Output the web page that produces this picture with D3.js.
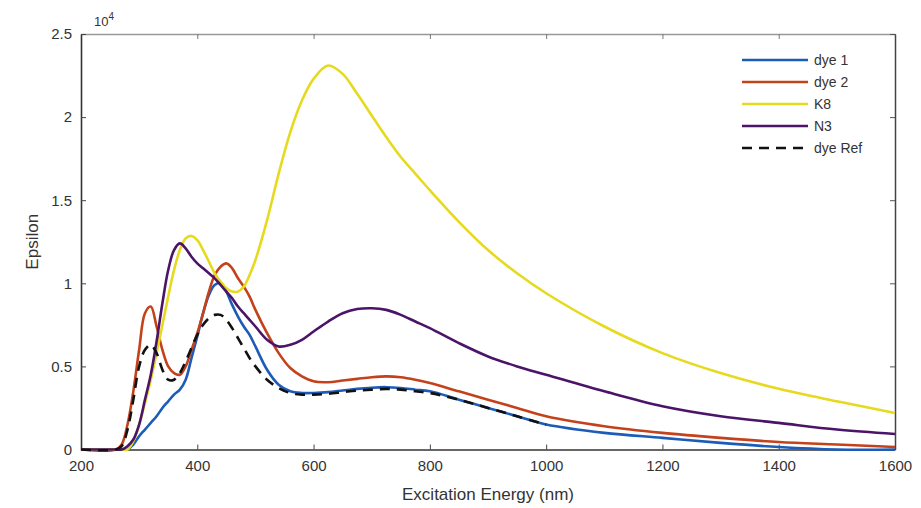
<!DOCTYPE html>
<html>
<head>
<meta charset="utf-8">
<script src="https://cdn.jsdelivr.net/npm/d3@7"></script>
<style>
body { margin: 0; background: #fff; }
svg { display: block; font-family: "Liberation Sans", Arial, sans-serif; }
</style>
</head>
<body>
<div class="chart"></div>
<script>
// wavelength grid (nm), shared by all series
var wavelength = [200, 260, 270, 280, 290, 300, 310, 320, 330, 340, 350, 360, 370, 380, 390, 400, 410, 420, 430, 440, 450, 460, 470, 480, 490, 500, 520, 540, 560, 580, 600, 625, 650, 675, 700, 725, 750, 775, 800, 850, 900, 950, 1000, 1100, 1200, 1300, 1400, 1500, 1600];

// epsilon values, x10^4
var dye1 = [0, 0, 0, 0, 0.03, 0.08, 0.12, 0.16, 0.2, 0.25, 0.29, 0.33, 0.36, 0.42, 0.55, 0.68, 0.82, 0.93, 0.99, 1.0, 0.95, 0.87, 0.8, 0.74, 0.69, 0.62, 0.48, 0.39, 0.35, 0.34, 0.34, 0.345, 0.355, 0.365, 0.372, 0.375, 0.37, 0.36, 0.35, 0.3, 0.25, 0.2, 0.15, 0.1, 0.07, 0.04, 0.015, 0, 0];
var dye2 = [0, 0, 0.03, 0.15, 0.35, 0.6, 0.82, 0.86, 0.74, 0.6, 0.5, 0.46, 0.45, 0.5, 0.6, 0.7, 0.82, 0.95, 1.05, 1.1, 1.12, 1.09, 1.03, 0.98, 0.92, 0.84, 0.7, 0.58, 0.49, 0.44, 0.41, 0.405, 0.415, 0.425, 0.435, 0.44, 0.435, 0.42, 0.4, 0.35, 0.3, 0.25, 0.2, 0.14, 0.1, 0.07, 0.045, 0.03, 0.015];
var k8 = [0, 0, 0, 0, 0.05, 0.15, 0.28, 0.42, 0.58, 0.75, 0.92, 1.08, 1.2, 1.27, 1.285, 1.26, 1.2, 1.13, 1.06, 1.01, 0.97, 0.95, 0.95, 0.98, 1.05, 1.14, 1.38, 1.66, 1.91, 2.1, 2.23, 2.31, 2.26, 2.14, 2.01, 1.88, 1.76, 1.66, 1.56, 1.37, 1.2, 1.06, 0.94, 0.74, 0.58, 0.46, 0.365, 0.29, 0.22];
var n3 = [0, 0, 0, 0.02, 0.06, 0.15, 0.3, 0.45, 0.65, 0.88, 1.08, 1.2, 1.24, 1.21, 1.16, 1.12, 1.09, 1.06, 1.03, 0.99, 0.95, 0.91, 0.86, 0.82, 0.78, 0.74, 0.66, 0.62, 0.63, 0.66, 0.71, 0.77, 0.82, 0.845, 0.85, 0.84, 0.81, 0.77, 0.73, 0.64, 0.56, 0.5, 0.45, 0.35, 0.26, 0.2, 0.16, 0.12, 0.093];
var dyeRef = [0, 0, 0.02, 0.12, 0.3, 0.5, 0.6, 0.63, 0.58, 0.48, 0.42, 0.42, 0.46, 0.53, 0.61, 0.69, 0.75, 0.79, 0.81, 0.81, 0.78, 0.73, 0.67, 0.61, 0.55, 0.5, 0.42, 0.37, 0.34, 0.33, 0.33, 0.335, 0.345, 0.355, 0.36, 0.365, 0.36, 0.35, 0.34, 0.3, 0.25, 0.2, 0.15, null, null, null, null, null, null];

var seriesNames = ['dye 1', 'dye 2', 'K8', 'N3', 'dye Ref'];
var seriesValues = [dye1, dye2, k8, n3, dyeRef];
var seriesColors = ['#1d5bb8', '#c4421b', '#e6da1f', '#4b1469', '#111111'];

var xTicks = [200, 400, 600, 800, 1000, 1200, 1400, 1600];
var yTicks = [0, 0.5, 1, 1.5, 2, 2.5];

(function() {
var width = 921;
var height = 508;
var pLeft = 81, pRight = 895, pTop = 34, pBottom = 449.5;

var svg = d3.select('.chart').append('svg').attr('width', width).attr('height', height);

var x = d3.scaleLinear().domain([200, 1600]).range([pLeft, pRight]);
var y = d3.scaleLinear().domain([0, 2.5]).range([pBottom, pTop]);

// box lines + inward ticks
svg.append('g')
  .attr('transform', 'translate(0,' + pTop + ')')
  .call(d3.axisTop(x).tickValues(xTicks).tickSizeInner(-5).tickSizeOuter(0).tickFormat(''))
  .call(function(g) { g.select('.domain').attr('stroke', '#999').attr('stroke-width', 1.5); g.selectAll('line').attr('stroke', '#777'); });
svg.append('g')
  .attr('transform', 'translate(' + pRight + ',0)')
  .call(d3.axisRight(y).tickValues(yTicks).tickSizeInner(-5).tickSizeOuter(0).tickFormat(''))
  .call(function(g) { g.select('.domain').attr('stroke', '#444').attr('stroke-width', 1.5); g.selectAll('line').attr('stroke', '#555'); });

var xAxis = svg.append('g')
  .attr('transform', 'translate(0,' + pBottom + ')')
  .call(d3.axisBottom(x).tickValues(xTicks).tickSizeInner(-5).tickSizeOuter(0).tickPadding(11).tickFormat(d3.format('d')));
var yAxis = svg.append('g')
  .attr('transform', 'translate(' + pLeft + ',0)')
  .call(d3.axisLeft(y).tickValues(yTicks).tickSizeInner(-5).tickSizeOuter(0).tickPadding(9).tickFormat(function(d) { return d; }));

[xAxis, yAxis].forEach(function(g) {
  g.select('.domain').attr('stroke', '#333').attr('stroke-width', 1.6);
  g.selectAll('line').attr('stroke', '#444');
  g.selectAll('text').attr('font-size', 15).attr('fill', '#333').attr('font-family', '"Liberation Sans", Arial, sans-serif');
});

// lines
var line = d3.line()
  .defined(function(d) { return d[1] !== null; })
  .x(function(d) { return x(d[0]); })
  .y(function(d) { return y(d[1]); })
  .curve(d3.curveCatmullRom.alpha(0.5));

seriesValues.forEach(function(vals, i) {
  var pts = wavelength.map(function(w, j) { return [w, vals[j]]; });
  svg.append('path')
    .attr('d', line(pts))
    .attr('fill', 'none')
    .attr('stroke', seriesColors[i])
    .attr('stroke-width', 2.6)
    .attr('stroke-dasharray', i === 4 ? '10,7' : null)
    .attr('stroke-linejoin', 'round');
});

// legend
var legend = svg.append('g');
seriesNames.forEach(function(name, i) {
  var ly = 60 + i * 22;
  legend.append('line')
    .attr('x1', 742).attr('x2', 808).attr('y1', ly).attr('y2', ly)
    .attr('stroke', seriesColors[i]).attr('stroke-width', 2.6)
    .attr('stroke-dasharray', i === 4 ? '10,7' : null);
  legend.append('text')
    .attr('x', 814).attr('y', ly + 5)
    .attr('font-size', 14).attr('fill', '#333')
    .text(name);
});

// exponent
var expo = svg.append('text').attr('x', 94).attr('y', 26).attr('font-size', 13).attr('fill', '#333');
expo.append('tspan').text('10');
expo.append('tspan').attr('dy', -6).attr('font-size', 10).text('4');

// axis titles
svg.append('text')
  .attr('x', (pLeft + pRight) / 2).attr('y', 500)
  .attr('text-anchor', 'middle').attr('font-size', 17).attr('fill', '#333')
  .text('Excitation Energy (nm)');
svg.append('text')
  .attr('transform', 'translate(38,' + ((pTop + pBottom) / 2) + ') rotate(-90)')
  .attr('text-anchor', 'middle').attr('font-size', 17).attr('fill', '#333')
  .text('Epsilon');
})();
</script>
</body>
</html>
